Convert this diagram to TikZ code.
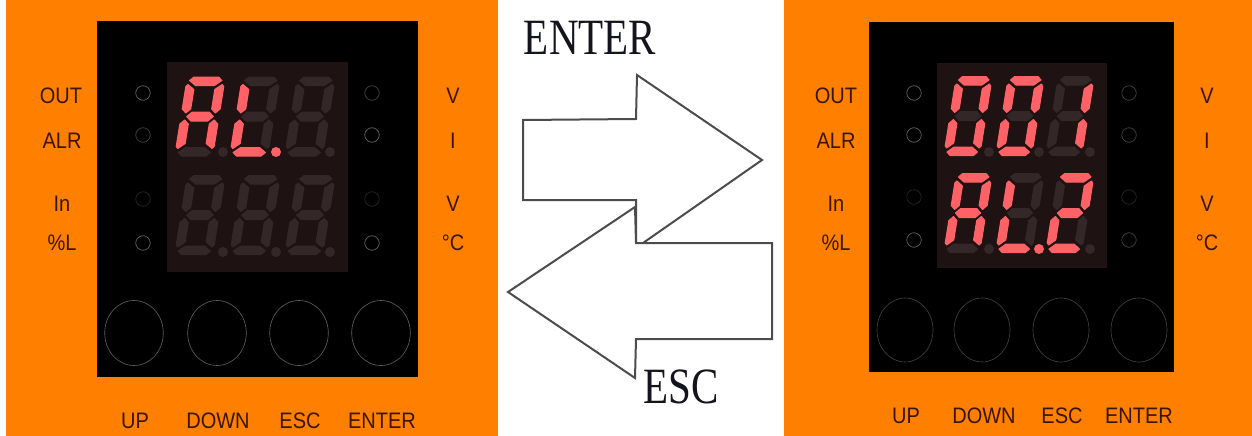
\documentclass[tikz,border=0pt]{standalone}
\usepackage{fontspec}
\usetikzlibrary{shapes.geometric}
\setmainfont{Liberation Sans}
\newfontfamily\serifarrow{Liberation Serif}
\definecolor{panelorange}{HTML}{FF8000}
\definecolor{dispbg}{HTML}{1E1212}
\definecolor{segoff}{HTML}{332727}
\definecolor{segon}{HTML}{FF6266}
\definecolor{labtext}{HTML}{3A1500}
\definecolor{bigtext}{HTML}{14141E}
\definecolor{ledhi}{HTML}{626262}
\definecolor{ledmid}{HTML}{444444}
\definecolor{ledlo}{HTML}{262626}
\tikzset{
  panel/.style={fill=black,draw=none},
  display/.style={fill=dispbg,draw=none},
  led/.style={draw=#1,line width=.7pt,fill=none},
  keycirc/.style={draw=#1,line width=.6pt,fill=none},
  lab/.style={font=\fontsize{20}{20}\selectfont,text=labtext,inner sep=0pt},
  biglab/.style={font=\serifarrow\fontsize{41}{41}\selectfont,text=bigtext,inner sep=0pt},
  bigarrow/.style={draw=black!70,line width=2pt,fill=white,line join=miter},
  seg/.style={draw=#1,fill=#1,line width=1pt,line join=round},
}
\newcommand{\lt}[1]{\scalebox{1}[1.12]{#1}}
\newcommand{\bt}[1]{\scalebox{1}[1.24]{#1}}
\newcommand{\sega}[1]{\path[seg=#1] (-13,-39.5) -- (13,-39.5) -- (17,-36) -- (10,-31) -- (-10,-31) -- (-17,-36) -- cycle;}
\newcommand{\segg}[1]{\path[seg=#1] (-9,-4.5) -- (9,-4.5) -- (14,0) -- (9,4.5) -- (-9,4.5) -- (-14,0) -- cycle;}
\newcommand{\segd}[1]{\path[seg=#1] (-10,31) -- (10,31) -- (17,36) -- (13,39.5) -- (-13,39.5) -- (-17,36) -- cycle;}
\newcommand{\segf}[1]{\path[seg=#1] (-20,-30) -- (-18,-32) -- (-11,-27) -- (-11,-7.5) -- (-15.5,-3.5) -- (-20,-7.5) -- cycle;}
\newcommand{\sege}[1]{\path[seg=#1] (-20,30) -- (-18,32) -- (-11,27) -- (-11,7.5) -- (-15.5,3.5) -- (-20,7.5) -- cycle;}
\newcommand{\segb}[1]{\path[seg=#1] (20,-30) -- (18,-32) -- (11,-27) -- (11,-7.5) -- (15.5,-3.5) -- (20,-7.5) -- cycle;}
\newcommand{\segc}[1]{\path[seg=#1] (20,30) -- (18,32) -- (11,27) -- (11,7.5) -- (15.5,3.5) -- (20,7.5) -- cycle;}
\newcommand{\digit}[9]{\begin{scope}[shift={(#1,#2)},xslant=.16,xscale=#3]
  \sega{#4}\segb{#5}\segc{#6}\segd{#7}\sege{#8}\segf{#9}\end{scope}}
\newcommand{\midseg}[4]{\begin{scope}[shift={(#1,#2)},xslant=.16,xscale=#3]\segg{#4}\end{scope}}
\newcommand{\dotseg}[3]{\fill[#3] (#1,#2) circle (5);}
\begin{document}
\begin{tikzpicture}[x=1pt,y=-1pt]
\useasboundingbox (0,0) rectangle (1252,436);
\fill[white] (0,0) rectangle (1252,436);
\fill[panelorange] (6,0) rectangle (498,436);
\fill[panelorange] (784,0) rectangle (1252,436);
% left unit
\path[panel] (97,21) rectangle (418,377);
\path[display] (167,62) rectangle (348,272);
\digit{200}{116.5}{.95}{segon}{segon}{segon}{segoff}{segon}{segon}
\midseg{200}{116.5}{.95}{segon}
\digit{255}{116.5}{.95}{segoff}{segoff}{segoff}{segon}{segon}{segon}
\midseg{255}{116.5}{.95}{segoff}
\digit{310}{116.5}{.95}{segoff}{segoff}{segoff}{segoff}{segoff}{segoff}
\midseg{310}{116.5}{.95}{segoff}
\digit{200}{215}{.95}{segoff}{segoff}{segoff}{segoff}{segoff}{segoff}
\midseg{200}{215}{.95}{segoff}
\digit{255}{215}{.95}{segoff}{segoff}{segoff}{segoff}{segoff}{segoff}
\midseg{255}{215}{.95}{segoff}
\digit{310}{215}{.95}{segoff}{segoff}{segoff}{segoff}{segoff}{segoff}
\midseg{310}{215}{.95}{segoff}
\dotseg{223}{152}{segoff}\dotseg{276}{152}{segon}\dotseg{330}{152}{segoff}
\dotseg{223}{252}{segoff}\dotseg{276}{252}{segoff}\dotseg{330}{252}{segoff}
\foreach \n/\x/\y/\c in {a/143/93/ledhi,b/143/135/ledmid,c/143/199/ledlo,d/143/243/ledhi,e/372/93/ledmid,f/372/135/ledhi,g/372/199/ledlo,h/372/243/ledhi}
  \node[led=\c,circle,minimum size=14.5pt,inner sep=0pt] (L\n) at (\x,\y) {};
\foreach \n/\x in {a/134,b/217,c/299,d/381}
  \node[keycirc=ledhi,ellipse,minimum width=58.6pt,minimum height=65pt,inner sep=0pt] (K\n) at (\x,333) {};
\node[lab] (t1) at (61,96) {\lt{OUT}};
\node[lab] (t2) at (62,141) {\lt{ALR}};
\node[lab] (t3) at (62,204) {\lt{In}};
\node[lab] (t4) at (62,243) {\lt{\%L}};
\node[lab] (t5) at (453,96) {\lt{V}};
\node[lab] (t6) at (453,141) {\lt{I}};
\node[lab] (t7) at (453,204) {\lt{V}};
\node[lab] (t8) at (453,243) {\lt{°C}};
\node[lab] (t9) at (135,421) {\lt{UP}};
\node[lab] (t10) at (218,421) {\lt{DOWN}};
\node[lab] (t11) at (300,421) {\lt{ESC}};
\node[lab] (t12) at (382,421) {\lt{ENTER}};
% right unit
\path[panel] (869,22) rectangle (1174,372);
\path[display] (937,63) rectangle (1107,268);
\digit{968}{116}{.9}{segon}{segon}{segon}{segon}{segon}{segon}
\midseg{968}{116}{.9}{segoff}
\digit{1020}{116}{.9}{segon}{segon}{segon}{segon}{segon}{segon}
\midseg{1020}{116}{.9}{segoff}
\digit{1070}{116}{.9}{segoff}{segon}{segon}{segoff}{segoff}{segoff}
\midseg{1070}{116}{.9}{segoff}
\digit{968}{213}{.9}{segon}{segon}{segon}{segoff}{segon}{segon}
\midseg{968}{213}{.9}{segon}
\digit{1020}{213}{.9}{segoff}{segoff}{segoff}{segon}{segon}{segon}
\midseg{1020}{213}{.9}{segoff}
\digit{1070}{213}{.9}{segon}{segon}{segoff}{segon}{segon}{segoff}
\midseg{1070}{213}{.9}{segon}
\dotseg{989}{152}{segoff}\dotseg{1039}{152}{segoff}\dotseg{1090}{152}{segoff}
\dotseg{989}{249}{segoff}\dotseg{1039}{249}{segon}\dotseg{1090}{249}{segoff}
\foreach \n/\x/\y/\c in {a/914/93/ledhi,b/914/135/ledhi,c/914/197/ledlo,d/914/240/ledhi,e/1129/93/ledmid,f/1129/135/ledmid,g/1129/197/ledlo,h/1129/240/ledmid}
  \node[led=\c,circle,minimum size=14.5pt,inner sep=0pt] (R\n) at (\x,\y) {};
\foreach \n/\x in {a/905,b/982,c/1061,d/1139}
  \node[keycirc=ledmid,ellipse,minimum width=56pt,minimum height=64pt,inner sep=0pt] (Q\n) at (\x,330) {};
\node[lab] (u1) at (836,96) {\lt{OUT}};
\node[lab] (u2) at (836,141) {\lt{ALR}};
\node[lab] (u3) at (836,204) {\lt{In}};
\node[lab] (u4) at (836,243) {\lt{\%L}};
\node[lab] (u5) at (1207,96) {\lt{V}};
\node[lab] (u6) at (1207,141) {\lt{I}};
\node[lab] (u7) at (1207,204) {\lt{V}};
\node[lab] (u8) at (1207,243) {\lt{°C}};
\node[lab] (u9) at (906,416) {\lt{UP}};
\node[lab] (u10) at (984,416) {\lt{DOWN}};
\node[lab] (u11) at (1062,416) {\lt{ESC}};
\node[lab] (u12) at (1139,416) {\lt{ENTER}};
% arrows
\draw[bigarrow] (523,120) -- (636,119) -- (637,75) -- (762,160) -- (643,243) -- (636,243) -- (636,200) -- (523,200) -- cycle;
\draw[bigarrow] (772,243) -- (636,243) -- (635,207) -- (508,292) -- (635,378) -- (636,339) -- (772,339) -- cycle;
\node[biglab] (en) at (590,38) {\bt{ENTER}};
\node[biglab] (es) at (681,387) {\bt{ESC}};
\end{tikzpicture}
\end{document}
